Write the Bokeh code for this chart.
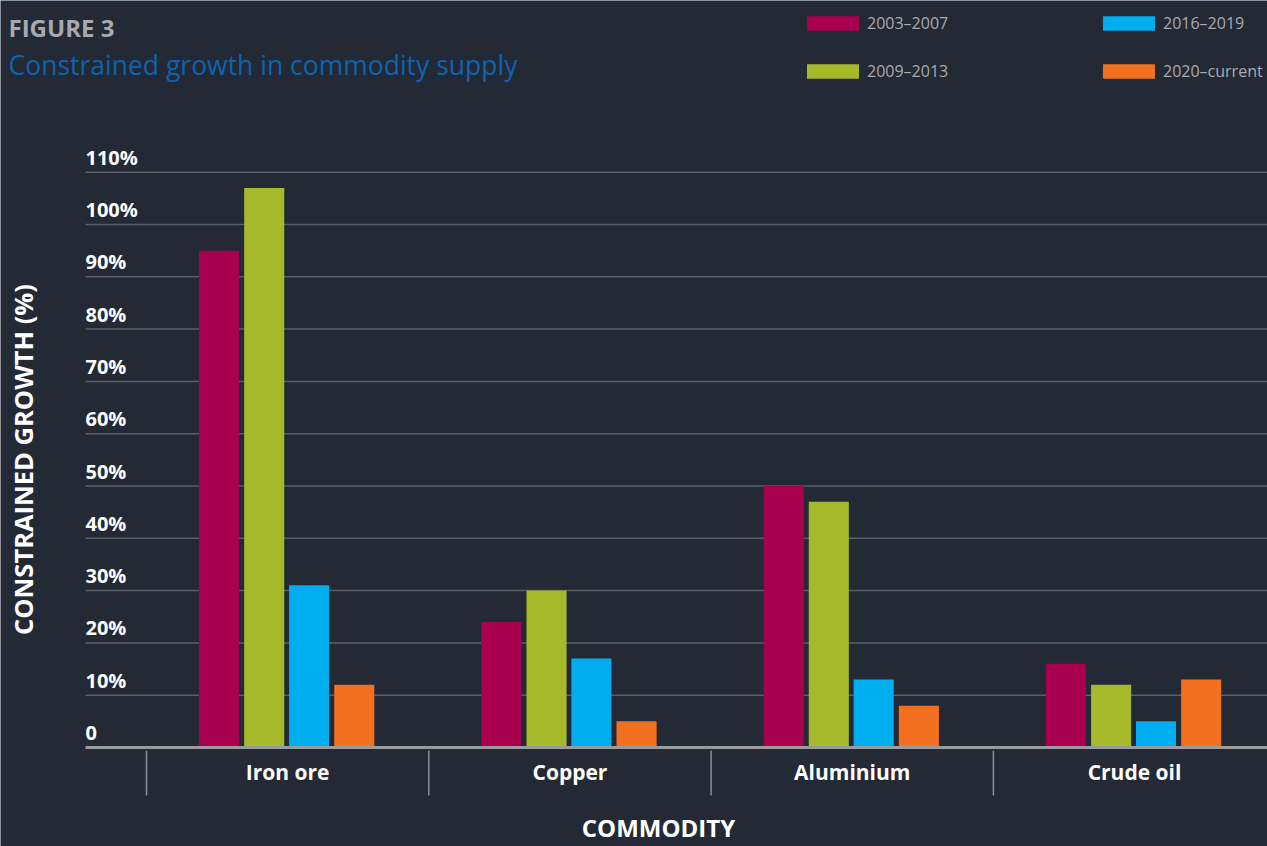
import math
from bokeh.plotting import figure
from bokeh.models import Range1d, Label, Legend, LegendItem, ColumnDataSource
from bokeh.core.properties import value
from bokeh.embed import file_html
from bokeh.resources import INLINE

# ---- data ----
categories = ["Iron ore", "Copper", "Aluminium", "Crude oil"]
periods = ["2003–2007", "2009–2013", "2016–2019", "2020–current"]
v_2003_2007 = [95, 24, 50, 16]
v_2009_2013 = [107, 30, 47, 12]
v_2016_2019 = [31, 17, 13, 5]
v_2020_current = [12, 5, 8, 13]
y_ticks = [0, 10, 20, 30, 40, 50, 60, 70, 80, 90, 100, 110]
y_tick_labels = ["0", "10%", "20%", "30%", "40%", "50%", "60%", "70%",
                 "80%", "90%", "100%", "110%"]

series = [v_2003_2007, v_2009_2013, v_2016_2019, v_2020_current]
colors = ["#a8004f", "#a5b92b", "#00aeef", "#f37021"]
dodges = [-0.243, -0.083, 0.076, 0.236]

BG = "#232935"
FONT = "Open Sans"
W, H = 1267, 846
CAT_PX = 282.3      # pixels per category
SEP0_PX = 146       # pixel x of first category separator
ZERO_PX = 747       # pixel y of value 0
UNIT_PX = 5.23      # pixels per percentage point

x_start = -SEP0_PX / CAT_PX
x_end = (W - SEP0_PX) / CAT_PX
y_start = -(H - ZERO_PX) / UNIT_PX
y_end = ZERO_PX / UNIT_PX

p = figure(width=W, height=H, output_backend="svg", toolbar_location=None,
           x_range=Range1d(x_start, x_end), y_range=Range1d(y_start, y_end),
           x_axis_location=None, y_axis_location=None,
           min_border=0, min_border_left=0, min_border_right=0,
           min_border_top=0, min_border_bottom=0,
           background_fill_color=BG, border_fill_color=BG,
           outline_line_color=None)
p.grid.visible = False

plot_left = (85 - SEP0_PX) / CAT_PX   # left edge of the plotting area

# horizontal grid lines
gsrc = ColumnDataSource(dict(y=y_ticks[1:]))
p.segment(x0=plot_left, x1=x_end, y0="y", y1="y", source=gsrc,
          line_color="#5a5f69", line_width=1.5)

# bars
centers = [i + 0.5 for i in range(len(categories))]
renderers = []
for vals, col, dx in zip(series, colors, dodges):
    src = ColumnDataSource(dict(x=[c + dx for c in centers], top=vals))
    r = p.vbar(x="x", top="top", bottom=0, width=0.142, source=src,
               fill_color=col, line_color=None)
    renderers.append(r)

# x axis line
p.segment(x0=plot_left, x1=x_end, y0=0, y1=0, line_color="#9a9b9d", line_width=3)

# category separators
seps = list(range(len(categories) + 1))
ssrc = ColumnDataSource(dict(x=seps))
p.segment(x0="x", x1="x", y0=-0.6, y1=-9.2, source=ssrc,
          line_color="#8c8f94", line_width=1.5)

# category labels
csrc = ColumnDataSource(dict(x=centers, t=categories))
p.text(x="x", y=-4.6, text="t", source=csrc, text_font=value(FONT),
       text_font_style="bold", text_font_size="21px", text_color="white",
       text_align="center", text_baseline="middle")

# y tick labels (sit 15 px above their grid lines)
lift = 15 / UNIT_PX
tsrc = ColumnDataSource(dict(y=[t + lift for t in y_ticks], t=y_tick_labels))
p.text(x=plot_left, y="y", text="t", source=tsrc, text_font=value(FONT),
       text_font_style="bold", text_font_size="20px", text_color="white",
       text_align="left", text_baseline="middle")

# titles and axis titles (screen units: x from left, y from bottom)
p.add_layout(Label(x=8, y=H - 27, x_units="screen", y_units="screen",
                   text="FIGURE 3", text_font=FONT, text_font_style="bold",
                   text_font_size="24px", text_color="#a7a9ae",
                   text_baseline="middle", text_align="left"))
p.add_layout(Label(x=8, y=H - 64, x_units="screen", y_units="screen",
                   text="Constrained growth in commodity supply", text_font=FONT,
                   text_font_size="26.5px", text_color="#0c63b0",
                   text_baseline="middle", text_align="left"))
p.add_layout(Label(x=22, y=H - 459, x_units="screen", y_units="screen",
                   angle=math.pi / 2,
                   text="CONSTRAINED GROWTH (%)", text_font=FONT,
                   text_font_style="bold", text_font_size="25.5px",
                   text_color="white", text_baseline="middle",
                   text_align="center"))
p.add_layout(Label(x=658, y=H - 827, x_units="screen", y_units="screen",
                   text="COMMODITY", text_font=FONT,
                   text_font_style="bold", text_font_size="24px",
                   text_color="white", text_baseline="middle",
                   text_align="center"))

# legends (two columns); legend swatches are drawn with a 10% inset
for idxs, lx in (([0, 1], 800), ([2, 3], 1096)):
    lg = Legend(items=[LegendItem(label=periods[i], renderers=[renderers[i]]) for i in idxs],
                location=(lx, H - 82), orientation="vertical",
                glyph_width=65, glyph_height=18, label_height=14,
                label_standoff=2, spacing=26, padding=0, margin=0,
                border_line_color=None, background_fill_alpha=0,
                label_text_font=FONT, label_text_font_size="16px",
                label_text_color="#a9abb0")
    p.add_layout(lg)

open("out.html", "w").write(file_html(p, INLINE))
